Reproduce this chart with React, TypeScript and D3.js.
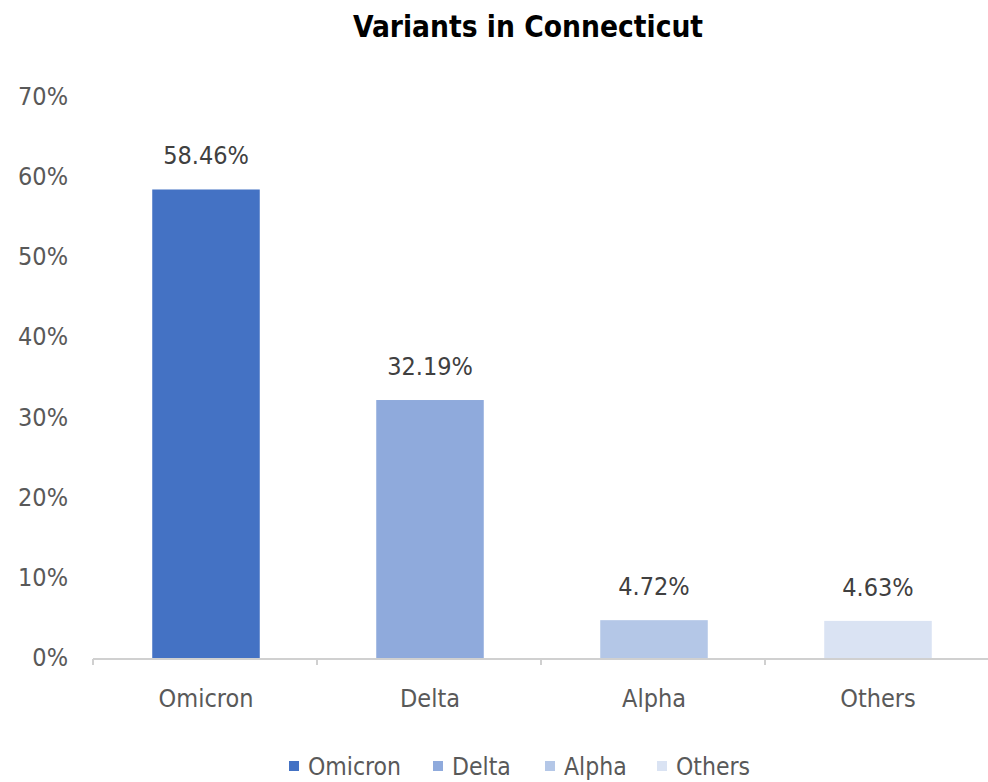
import React from "react";
import * as d3 from "d3";

const categories = ["Omicron", "Delta", "Alpha", "Others"];
const values = [58.46, 32.19, 4.72, 4.63];
const colors = ["#4472C4", "#8FAADC", "#B4C7E7", "#DAE3F3"];
const yTicks = [0, 10, 20, 30, 40, 50, 60, 70];
const title = "Variants in Connecticut";

const W = 988;
const H = 782;
const FONT = "'DejaVu Sans Condensed', 'Open Sans', sans-serif";

export default function App() {
  const x = d3.scaleBand<string>().domain(categories).range([93, 989]).paddingInner(0.52).paddingOuter(0.26);
  const y = d3.scaleLinear().domain([0, 70]).range([658, 97]);
  const step = x.step();
  const x0 = 93;

  const legendItems = categories.map((c, i) => ({ c, color: colors[i] }));
  const legendX = [289, 433, 545, 657];

  return (
    <svg width={W} height={H} style={{ position: "absolute", left: 0, top: 0, background: "#fff" }}>
      <text x={528} y={37} textAnchor="middle" fontFamily={FONT} fontWeight="bold" fontSize={29.6} fill="#000">
        {title}
      </text>
      {yTicks.map((t) => (
        <text key={t} x={68} y={y(t) + 8} textAnchor="end" fontFamily={FONT} fontSize={25} fill="#595959">
          {t}%
        </text>
      ))}
      {categories.map((c, i) => (
        <g key={c}>
          <rect x={(x(c) ?? 0) + 1} y={y(values[i])} width={x.bandwidth()} height={y(0) - y(values[i])} fill={colors[i]} />
          <text
            x={(x(c) ?? 0) + 1 + x.bandwidth() / 2}
            y={y(values[i]) - 25}
            textAnchor="middle"
            fontFamily={FONT}
            fontSize={25}
            fill="#404040"
          >
            {values[i].toFixed(2)}%
          </text>
          <text
            x={(x(c) ?? 0) + 1 + x.bandwidth() / 2}
            y={707}
            textAnchor="middle"
            fontFamily={FONT}
            fontSize={25}
            fill="#595959"
          >
            {c}
          </text>
        </g>
      ))}
      <line x1={x0} x2={989} y1={659} y2={659} stroke="#d0d0d0" strokeWidth={2} />
      {d3.range(categories.length + 1).map((i) => (
        <line key={i} x1={x0 + i * step} x2={x0 + i * step} y1={659} y2={665} stroke="#d0d0d0" strokeWidth={2} />
      ))}
      {legendItems.map((d, i) => (
        <g key={d.c}>
          <rect x={legendX[i]} y={761} width={10} height={10} fill={d.color} />
          <text x={legendX[i] + 19} y={775} fontFamily={FONT} fontSize={24.5} fill="#595959">
            {d.c}
          </text>
        </g>
      ))}
    </svg>
  );
}
